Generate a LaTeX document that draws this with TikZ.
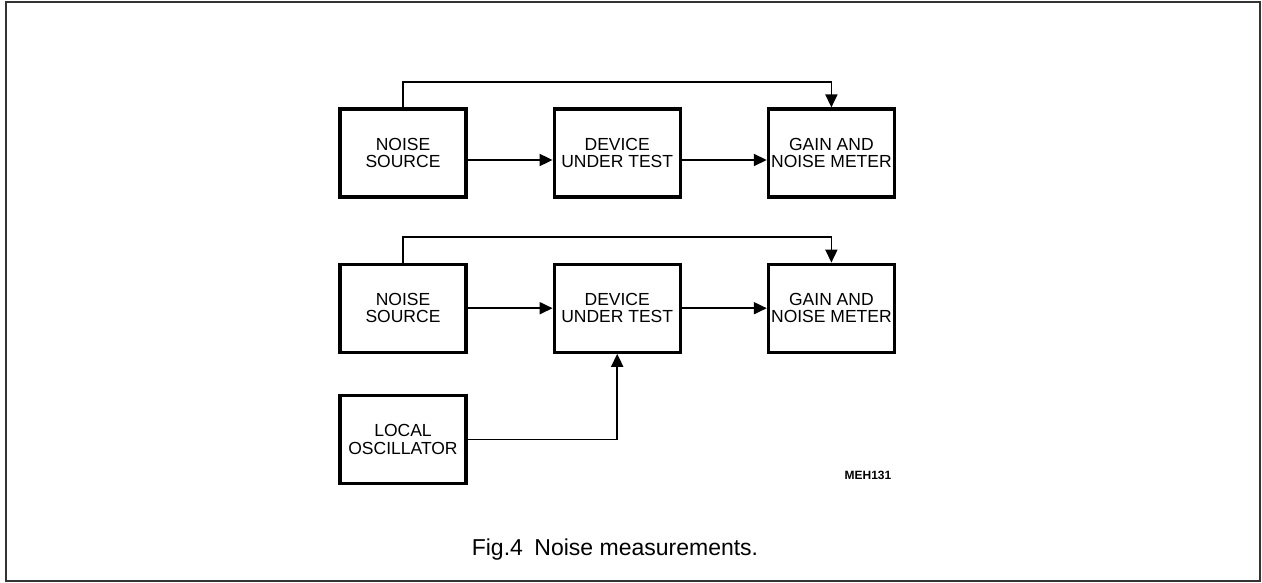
\documentclass[tikz,border=0pt]{standalone}
\usepackage{fontspec}
\setmainfont{Liberation Sans}
\usetikzlibrary{arrows.meta,positioning}

\begin{document}
\begin{tikzpicture}[
  x=1pt, y=-1pt,
  font=\fontsize{17.5}{17.5}\selectfont,
  node distance=64pt and 85pt,
  block/.style={
    draw=black,
    line width=3.2pt,
    align=center,
    minimum width=126pt,
    minimum height=88pt,
    inner sep=1pt
  },
  arrow/.style={-{Triangle[length=13pt,width=12pt]},line width=1.8pt}
]
\useasboundingbox (0,0) rectangle (1262,583);
\draw[line width=1.5pt,draw=black!80] (6,2) rectangle (1260,581);

% upper set-up
\node[block] (source) at (403,153) {NOISE\\SOURCE};
\node[block,right=of source] (dut) {DEVICE\\UNDER TEST};
\node[block,right=of dut] (meter) {GAIN AND\\NOISE METER};

\draw[arrow] ([yshift=-7pt]source.east) -- ([yshift=-7pt]dut.west);
\draw[arrow] ([yshift=-7pt]dut.east) -- ([yshift=-7pt]meter.west);
\draw[arrow] (source.north) -- ++(0,-25) -| (meter.north);

% lower set-up with local oscillator
\node[block,below=of source] (sourceb) {NOISE\\SOURCE};
\node[block,right=of sourceb] (dutb) {DEVICE\\UNDER TEST};
\node[block,right=of dutb] (meterb) {GAIN AND\\NOISE METER};
\node[block,below=40pt of sourceb] (oscillator) {LOCAL\\OSCILLATOR};

\draw[arrow] (sourceb) -- (dutb);
\draw[arrow] (dutb) -- (meterb);
\draw[arrow] (sourceb.north) -- ++(0,-26) -| (meterb.north);
\draw[arrow] (oscillator.east) -| (dutb.south);

\node[font=\bfseries\fontsize{12}{12}\selectfont] (code) at (868,475) {MEH131};
\node[font=\fontsize{23}{24}\selectfont] (caption) at (615,550) {Fig.4\enspace Noise measurements.};
\end{tikzpicture}
\end{document}
